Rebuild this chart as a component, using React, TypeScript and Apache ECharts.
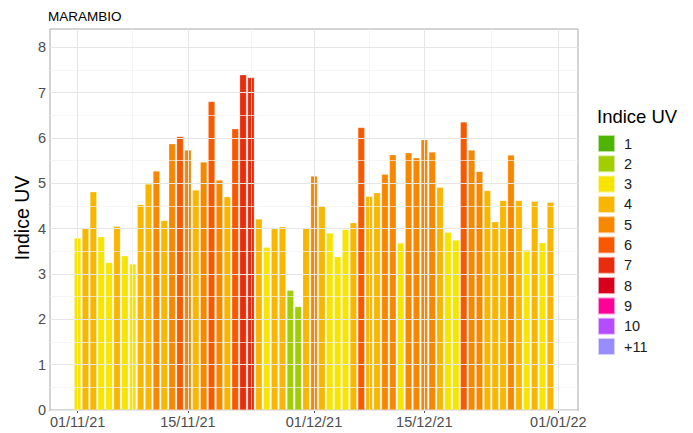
import React, { useEffect, useRef } from "react";
import * as echarts from "echarts";

// UV index, Marambio, daily values (1 Nov 2021 .. 31 Dec 2021)
const uvNov = [3.79, 4.0, 4.81, 3.82, 3.25, 4.05, 3.4, 3.22, 4.53, 4.98, 5.27, 4.18, 5.87, 6.03, 5.73, 4.85, 5.47, 6.8, 5.07, 4.7, 6.2, 7.39, 7.33, 4.21, 3.59, 4.0, 4.04, 2.64, 2.28, 4.02];
const uvDec = [5.16, 4.5, 3.9, 3.38, 3.98, 4.13, 6.23, 4.71, 4.79, 5.2, 5.63, 3.68, 5.67, 5.56, 5.96, 5.69, 4.91, 3.92, 3.75, 6.35, 5.73, 5.26, 4.84, 4.15, 4.62, 5.62, 4.62, 3.53, 4.6, 3.69, 4.58];

const categoryNames = ["1", "2", "3", "4", "5", "6", "7", "8", "9", "10", "+11"];
const categoryColors = ["#4eb400", "#a0ce00", "#f7e400", "#f8b600", "#f88700", "#f85900", "#e82c0e", "#d8001d", "#ff0099", "#b54cff", "#998cff"];

// x ticks as day offsets from 01/11/21
const xTickDays = [0, 14, 30, 44, 61];
const xTickLabels = ["01/11/21", "15/11/21", "01/12/21", "15/12/21", "01/01/22"];
const xMinorDays = [7, 22, 37, 52.5];
const yTicks = [0, 1, 2, 3, 4, 5, 6, 7, 8];
const yMinor = [0.5, 1.5, 2.5, 3.5, 4.5, 5.5, 6.5, 7.5];

export default function App() {
  const ref = useRef<HTMLDivElement>(null);
  useEffect(() => {
    if (!ref.current) return;
    const chart = echarts.init(ref.current, null, { renderer: "svg" });
    const values = [...uvNov, ...uvDec];
    const catOf = (v: number) => Math.min(11, Math.max(1, Math.floor(v))) - 1;

    const dataSeries = {
      name: "UV",
      type: "bar",
      z: 3,
      barWidth: 6.8,
      barGap: "-100%",
      data: values.map((v, i) => ({
        value: [i, v],
        itemStyle: {
          color: categoryColors[catOf(v)],
          borderColor: "rgba(255,255,255,0.5)",
          borderWidth: 0.5,
        },
      })),
    };

    // empty series only used for the legend keys
    const legendSeries = categoryNames.map((name, k) => ({
      name,
      type: "bar",
      z: 2,
      barWidth: 6.8,
      barGap: "-100%",
      itemStyle: { color: categoryColors[k], borderColor: "rgba(255,255,255,0.6)", borderWidth: 0.5 },
      data: [],
    }));

    const major = { color: "#e6e6e6", width: 1, type: "solid" };
    const minor = { color: "#f2f2f2", width: 0.7, type: "solid" };

    const gridSeries = {
      name: "__grid",
      type: "line",
      z: 1,
      data: [],
      silent: true,
      markLine: {
        silent: true,
        symbol: "none",
        label: { show: false },
        animation: false,
        data: [
          ...yMinor.map((v) => ({ yAxis: v, lineStyle: minor })),
          ...xMinorDays.map((v) => ({ xAxis: v, lineStyle: minor })),
          ...yTicks.map((v) => ({ yAxis: v, lineStyle: major })),
          ...xTickDays.map((v) => ({ xAxis: v, lineStyle: major })),
        ],
      },
    };

    const font = "'Liberation Sans', Arial, sans-serif";

    chart.setOption({
      animation: false,
      grid: {
        left: 50,
        top: 29,
        width: 528,
        height: 381,
        show: true,
        borderColor: "#a8a8a8",
        borderWidth: 1,
        containLabel: false,
      },
      xAxis: {
        type: "value",
        min: -3.5,
        max: 63.5,
        axisLine: { show: true, lineStyle: { color: "#555555", width: 1 } },
        axisTick: { show: true, length: 3, lineStyle: { color: "#555555" }, customValues: xTickDays },
        axisLabel: {
          customValues: xTickDays,
          formatter: (v: number) => {
            const idx = xTickDays.indexOf(v);
            return idx >= 0 ? xTickLabels[idx] : "";
          },
          color: "#4d4d4d",
          fontSize: 14.5,
          fontFamily: font,
          margin: 4,
        },
        splitLine: { show: false },
      },
      yAxis: {
        type: "value",
        min: 0,
        max: 8.4,
        axisLine: { show: true, lineStyle: { color: "#b0b0b0", width: 1 } },
        axisTick: { show: true, length: 3, lineStyle: { color: "#777777" }, customValues: yTicks },
        axisLabel: {
          customValues: yTicks,
          color: "#4d4d4d",
          fontSize: 14.5,
          fontFamily: font,
          margin: 4,
        },
        splitLine: { show: false },
      },
      legend: {
        orient: "vertical",
        left: 597,
        top: 134,
        padding: 0,
        itemWidth: 17,
        itemHeight: 17,
        itemGap: 1.3,
        icon: "rect",
        data: categoryNames,
        textStyle: { fontSize: 14.5, color: "#1a1a1a", fontFamily: font, padding: [0, 0, 0, 4] },
        selectedMode: false,
      },
      graphic: [
        {
          type: "text",
          left: 48,
          top: 9,
          style: { text: "MARAMBIO", fontSize: 13.5, fill: "#000", fontFamily: font },
        },
        {
          type: "text",
          x: 22,
          y: 218,
          rotation: Math.PI / 2,
          style: {
            text: "Indice UV",
            fontSize: 19.5,
            fill: "#000",
            fontFamily: font,
            align: "center",
            verticalAlign: "middle",
          },
        },
        {
          type: "text",
          x: 597,
          y: 116,
          style: {
            text: "Indice UV",
            fontSize: 18.5,
            fill: "#000",
            fontFamily: font,
            align: "left",
            verticalAlign: "middle",
          },
        },
      ],
      series: [gridSeries, dataSeries, ...legendSeries],
    });
    return () => chart.dispose();
  }, []);
  return (
    <div
      ref={ref}
      style={{ position: "fixed", left: 0, top: 0, width: 693, height: 433, background: "#fff" }}
    />
  );
}
